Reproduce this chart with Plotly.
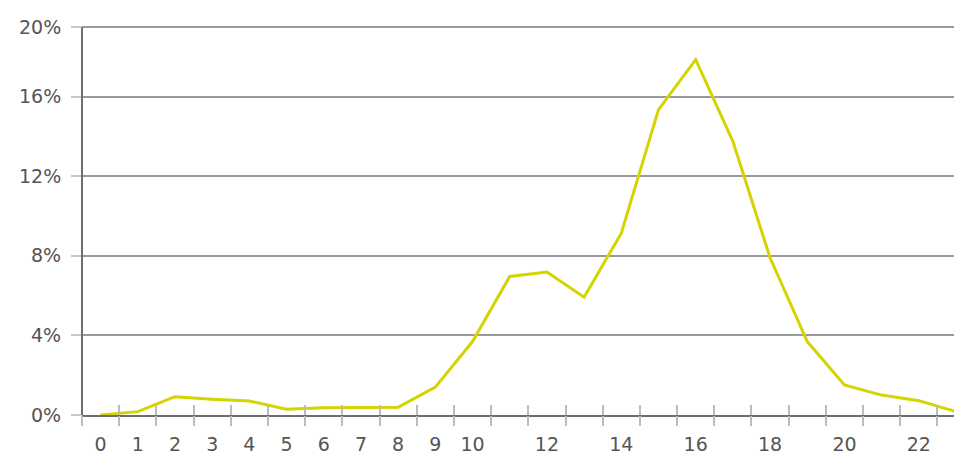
import plotly.graph_objects as go

# share per hour, in percent
hours = list(range(24))
share = [0.0, 0.17, 0.92, 0.79, 0.70, 0.29, 0.37, 0.39, 0.39, 1.40,
         3.69, 6.96, 7.18, 5.92, 9.14, 15.35, 17.86, 13.75, 7.90, 3.69,
         1.51, 1.00, 0.72, 0.17]

x_tickvals = [0, 1, 2, 3, 4, 5, 6, 7, 8, 9, 10, 12, 14, 16, 18, 20, 22]
x_ticktext = [str(v) for v in x_tickvals]
y_tickvals = [0, 4, 8, 12, 16, 19.5]
y_ticktext = ["0%", "4%", "8%", "12%", "16%", "20%"]
bounds = [h - 0.5 for h in range(25)]

FONT = dict(family="DejaVu Sans", size=19, color="#555555")
XRANGE = [-0.5, 23.16]

fig = go.Figure()
fig.add_trace(go.Scatter(x=hours, y=share, mode="lines",
                         line=dict(color="#d4d400", width=3),
                         hoverinfo="skip", showlegend=False))

# tick marks at category boundaries, drawn on overlay axes so they cross the axis line
fig.add_trace(go.Scatter(x=[None], y=[None], xaxis="x2", showlegend=False))
fig.add_trace(go.Scatter(x=[None], y=[None], xaxis="x3", showlegend=False))

# page body has an 8px margin, so the figure is a bit smaller than the window
fig.update_layout(
    width=954, height=448,
    margin=dict(l=74, r=0, t=15, b=41),
    paper_bgcolor="white", plot_bgcolor="white",
    font=FONT,
    xaxis=dict(range=XRANGE, tickmode="array", tickvals=x_tickvals, ticktext=x_ticktext,
               ticks="", showgrid=False, zeroline=False, showline=True,
               linecolor="#6e6e6e", linewidth=2, ticklabelstandoff=11,
               tickfont=FONT, automargin=False),
    xaxis2=dict(range=XRANGE, overlaying="x", anchor="y", side="bottom",
                tickmode="array", tickvals=bounds, showticklabels=False,
                ticks="outside", ticklen=10, tickwidth=1.5, tickcolor="#bdbdbd",
                showgrid=False, zeroline=False, showline=False, automargin=False),
    xaxis3=dict(range=XRANGE, overlaying="x", anchor="y", side="bottom",
                tickmode="array", tickvals=bounds, showticklabels=False,
                ticks="inside", ticklen=10, tickwidth=1.5, tickcolor="#bdbdbd",
                showgrid=False, zeroline=False, showline=False, automargin=False),
    yaxis=dict(range=[0, 19.7], tickmode="array", tickvals=y_tickvals, ticktext=y_ticktext,
               ticks="outside", ticklen=10, tickwidth=1.5, tickcolor="#c8c8c8",
               showgrid=True, gridcolor="#9a9a9a", gridwidth=1.5,
               zeroline=False, showline=False, ticklabelstandoff=6,
               tickfont=FONT, automargin=False),
)

# vertical axis line only from 0% up to the top gridline
fig.add_shape(type="line", xref="x domain", yref="y", x0=0, x1=0, y0=0, y1=19.5,
              line=dict(color="#6e6e6e", width=2))

fig.write_html("out.html")
